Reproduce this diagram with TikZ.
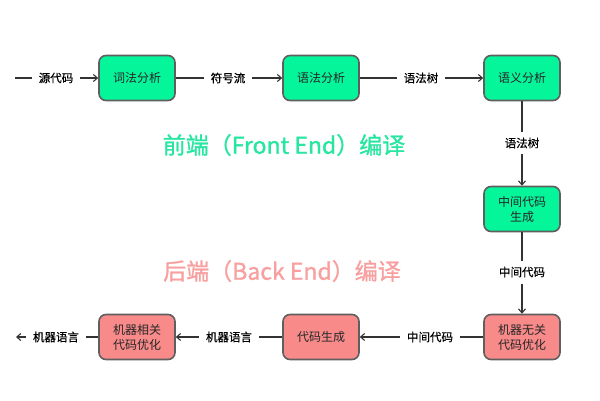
\documentclass[tikz,border=0pt]{standalone}
\usepackage{fontspec}
\setmainfont{Noto Sans CJK SC}
\newfontfamily\cjk{Noto Sans CJK SC}
\newfontfamily\cjkb[FakeBold=1.2]{Noto Sans CJK SC}
\newfontfamily\cjkm[FakeBold=0.6]{Noto Sans CJK SC}
\usetikzlibrary{arrows.meta}
\definecolor{gfill}{RGB}{5,245,155}
\definecolor{pfill}{RGB}{248,138,138}
\definecolor{bord}{RGB}{95,95,95}
\definecolor{gtitle}{RGB}{40,230,160}
\definecolor{ptitle}{RGB}{248,160,160}
\tikzset{
  x=1pt,y=-1pt,
  box/.style={draw=bord,line width=1.6pt,rounded corners=7pt,minimum width=76pt,minimum height=45pt,align=center,font=\cjk\fontsize{12}{15}\selectfont,text=black!85,inner sep=2pt},
  gbox/.style={box,fill=gfill},
  pbox/.style={box,fill=pfill},
  lbl/.style={font=\cjkm\fontsize{11.5}{14}\selectfont,text=black,inner xsep=7pt,inner ysep=6pt},
  conn/.style={draw=black!80,line width=1.1pt},
  arr/.style={conn,-{Straight Barb[length=4pt,width=7pt]}},
  ttl/.style={font=\cjkb\fontsize{23}{27}\selectfont}
}
\begin{document}
\begin{tikzpicture}
\useasboundingbox (0,0) rectangle (600,400);
% boxes
\node[gbox] (b1) at (137,78) {词法分析};
\node[gbox] (b2) at (321,78) {语法分析};
\node[gbox] (b3) at (522,78) {语义分析};
\node[gbox] (b4) at (522,209) {中间代码\\生成};
\node[pbox] (b5) at (522,337) {机器无关\\代码优化};
\node[pbox] (b6) at (321,337) {代码生成};
\node[pbox] (b7) at (137,337) {机器相关\\代码优化};
% labels
\coordinate (s) at (15,78);
\node[lbl] (l0) at (56,78) {源代码};
\node[lbl] (l1) at (228,78) {符号流};
\node[lbl] (l2) at (421,78) {语法树};
\node[lbl] (l3) at (522,143) {语法树};
\node[lbl] (l4) at (522,272) {中间代码};
\node[lbl] (l5) at (430,337) {中间代码};
\node[lbl] (l6) at (229,337) {机器语言};
\node[lbl] (l7) at (56,337) {机器语言};
\coordinate (e) at (16,337);
% connectors
\draw[conn] (s) -- (l0);
\draw[arr] (l0) -- (b1);
\draw[conn] (b1) -- (l1);
\draw[arr] (l1) -- (b2);
\draw[conn] (b2) -- (l2);
\draw[arr] (l2) -- (b3);
\draw[conn] (b3) -- (l3);
\draw[arr] (l3) -- (b4);
\draw[conn] (b4) -- (l4);
\draw[arr] (l4) -- (b5);
\draw[conn] (b5) -- (l5);
\draw[arr] (l5) -- (b6);
\draw[conn] (b6) -- (l6);
\draw[arr] (l6) -- (b7);
\draw[conn] (b7) -- (l7);
\draw[arr] (l7) -- (e);
% titles
\node[ttl,text=gtitle] (t1) at (284,145) {前端（Front End）编译};
\node[ttl,text=ptitle] (t2) at (282,271) {后端（Back End）编译};
\end{tikzpicture}
\end{document}
